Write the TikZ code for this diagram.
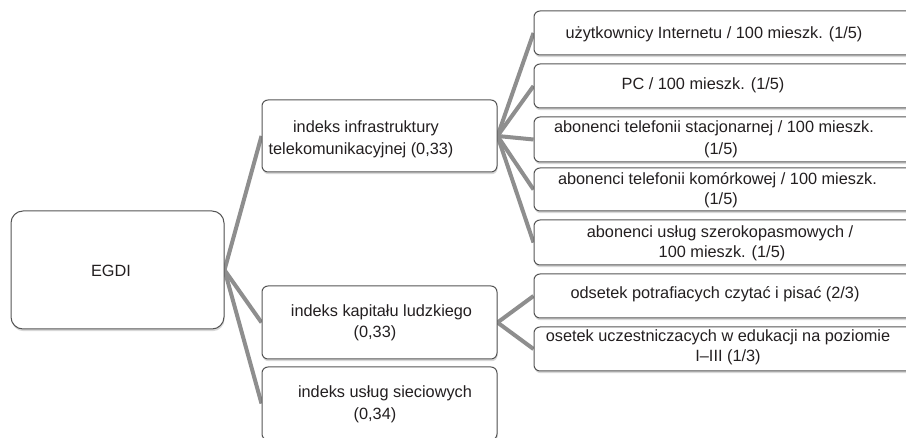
\documentclass[tikz,border=0pt]{standalone}
\usepackage{fontspec}
\setmainfont{Liberation Sans}
\usetikzlibrary{shadows,backgrounds}
\definecolor{conn}{HTML}{8E8E8E}
\definecolor{edge}{HTML}{555555}
\definecolor{ink}{HTML}{231F20}
\tikzset{
  box/.style={draw=edge, line width=1pt, fill=white, rounded corners=6pt, inner sep=0pt,
    drop shadow={shadow xshift=0.6pt, shadow yshift=-2.2pt, opacity=0.3, fill=black!50}},
  rootbox/.style={box, rounded corners=12pt},
  conline/.style={draw=conn, line width=4pt},
  txt/.style={anchor=base, inner sep=0pt, text=ink, font=\fontsize{16.3}{19}\selectfont}
}
\begin{document}
\begin{tikzpicture}[x=1pt,y=-1pt]
\useasboundingbox (0,0) rectangle (906,438);
\clip (0,0) rectangle (906,438);
% boxes
\node[rootbox, minimum width=213pt, minimum height=118pt] (egdi) at (117.5,270) {};
\node[box, minimum width=235pt, minimum height=72pt] (infra) at (379.5,136) {};
\node[box, minimum width=235pt, minimum height=73pt] (kap) at (379.5,322.5) {};
\node[box, minimum width=235pt, minimum height=73pt] (usl) at (379.5,403.5) {};
\node[box, minimum width=381pt, minimum height=44pt] (r1) at (724.5,33) {};
\node[box, minimum width=381pt, minimum height=44pt] (r2) at (724.5,86) {};
\node[box, minimum width=381pt, minimum height=45pt] (r3) at (724.5,139.5) {};
\node[box, minimum width=381pt, minimum height=43pt] (r4) at (724.5,189.5) {};
\node[box, minimum width=381pt, minimum height=45pt] (r5) at (724.5,242.5) {};
\node[box, minimum width=381pt, minimum height=44pt] (r6) at (724.5,296) {};
\node[box, minimum width=381pt, minimum height=44pt] (r7) at (724.5,349) {};
% connectors
\begin{scope}[on background layer]
\fill[white] (0,0) rectangle (906,438);
\draw[conline] (egdi.east) -- (infra.west);
\draw[conline] (egdi.east) -- (kap.west);
\draw[conline] (egdi.east) -- (usl.west);
\draw[conline] (infra.east) -- (r1.west);
\draw[conline] (infra.east) -- (r2.west);
\draw[conline] (infra.east) -- (r3.west);
\draw[conline] (infra.east) -- (r4.west);
\draw[conline] (infra.east) -- (r5.west);
\draw[conline] (kap.east) -- (r6.west);
\draw[conline] (kap.east) -- (r7.west);
\end{scope}
% texts
\node[txt] (t0) at (111,277) {EGDI};
\node[txt] (t1a) at (366,133) {indeks infrastruktury};
\node[txt] (t1b) at (361,155) {telekomunikacyjnej (0,33)};
\node[txt] (t2a) at (381.5,317) {indeks kapitału ludzkiego};
\node[txt] (t2b) at (375,338) {(0,33)};
\node[txt] (t3a) at (385,398) {indeks usług sieciowych};
\node[txt] (t3b) at (375,420) {(0,34)};
\node[txt] (u1) at (714,39) {użytkownicy Internetu / 100 mieszk. (1/5)};
\node[txt] (u2) at (703,90) {PC / 100 mieszk. (1/5)};
\node[txt] (u3a) at (714,133) {abonenci telefonii stacjonarnej / 100 mieszk.};
\node[txt] (u3b) at (721,155) {(1/5)};
\node[txt] (u4a) at (717.5,185) {abonenci telefonii komórkowej / 100 mieszk.};
\node[txt] (u4b) at (721,205) {(1/5)};
\node[txt] (u5a) at (720,238) {abonenci usług szerokopasmowych /};
\node[txt] (u5b) at (722,258) {100 mieszk. (1/5)};
\node[txt] (u6) at (715,299) {odsetek potrafiacych czytać i pisać (2/3)};
\node[txt] (u7a) at (718,342) {osetek uczestniczacych w edukacji na poziomie};
\node[txt] (u7b) at (728,362) {I–III (1/3)};
\end{tikzpicture}
\end{document}
